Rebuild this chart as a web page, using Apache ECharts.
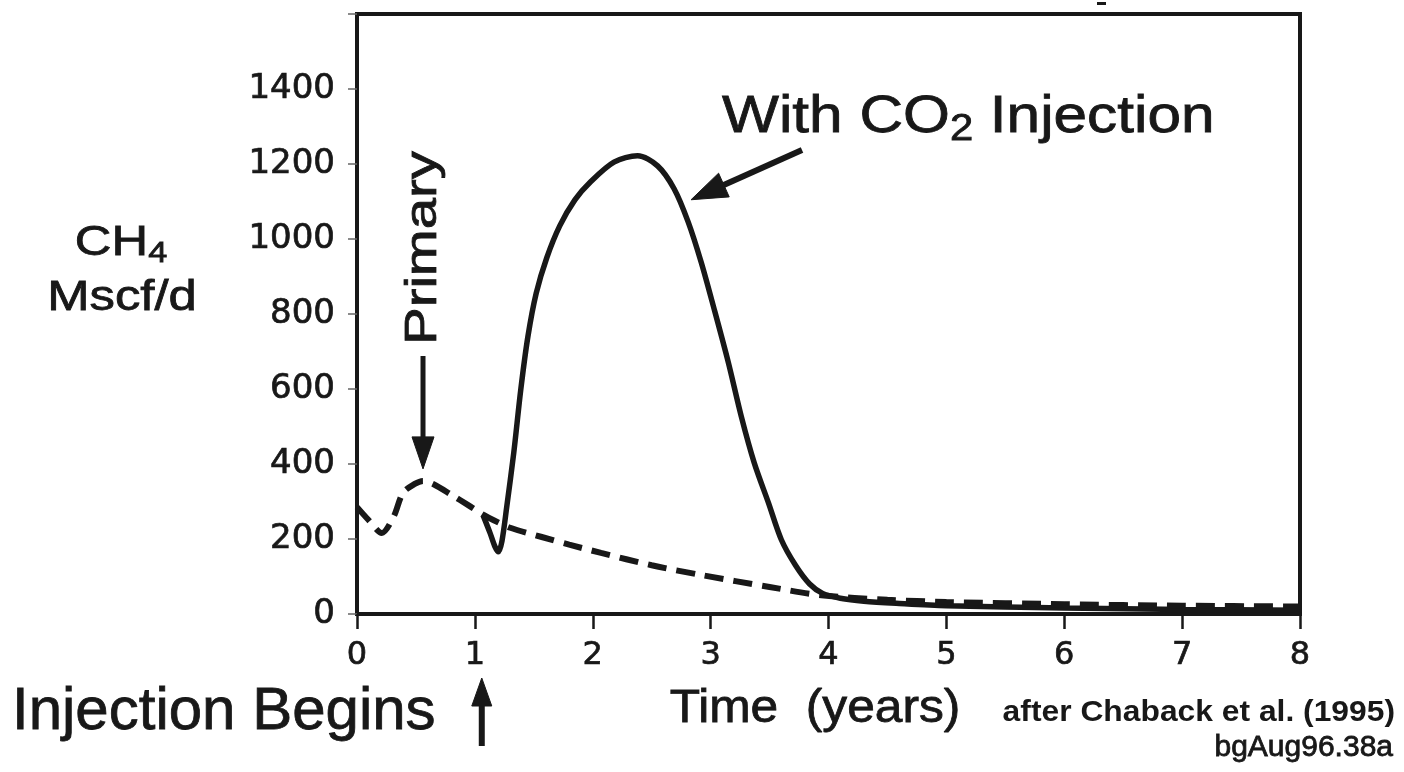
<!DOCTYPE html>
<html>
<head>
<meta charset="utf-8">
<title>CH4 production with CO2 injection</title>
<script src="https://cdn.jsdelivr.net/npm/echarts@6/dist/echarts.min.js"></script>
<style>
  html, body { margin: 0; padding: 0; background: #ffffff; }
  #chart { width: 1404px; height: 772px; }
</style>
</head>
<body>
<div id="chart"></div>
<script>
// Axis ticks
const yearTicks = [0, 1, 2, 3, 4, 5, 6, 7, 8];
const rateTicks = [0, 200, 400, 600, 800, 1000, 1200, 1400];

// Primary production (dashed), CH4 Mscf/d vs time in years
const primaryYears = [0, 0.1, 0.21, 0.31, 0.39, 0.49, 0.56, 0.65, 0.8, 0.94, 1.07, 1.16, 1.3, 1.56, 1.8, 2.07, 2.5, 2.92, 3.5, 3.94, 4.5, 5, 6, 7, 8];
const primaryRate  = [285, 250, 216, 259, 323, 347, 355, 346, 318, 291, 265, 250, 230, 206, 185, 163, 130, 104, 72, 50, 38, 32, 26, 22, 20];

// Production with CO2 injection (solid), starting when injection begins
const co2Years = [1.07, 1.13, 1.17, 1.2, 1.23, 1.27, 1.33, 1.39, 1.45, 1.52, 1.61, 1.72, 1.85, 1.98, 2.18, 2.38, 2.55, 2.69, 2.81, 2.92, 3.03, 3.15, 3.26, 3.37, 3.49, 3.6, 3.72, 3.84, 3.95, 4.1, 4.3, 4.6, 5, 6, 7, 8];
const co2Rate  = [263, 215, 180, 166, 195, 285, 430, 600, 740, 855, 950, 1035, 1105, 1152, 1205, 1222, 1195, 1134, 1045, 938, 813, 671, 527, 403, 297, 198, 130, 80, 55, 42, 34, 28, 22, 16, 12, 10];

// Annotation anchors in data space
const injectionStart = 1.05;
const co2Pointer = [2.8, 1110];

const INK = '#181818';
const SANS = '"Liberation Sans", Arial, sans-serif';
const TICKFONT = '"DejaVu Sans", sans-serif';

const zip = (xs, ys) => xs.map((x, i) => [x, ys[i]]);

const chart = echarts.init(document.getElementById('chart'), null, { renderer: 'canvas' });

chart.setOption({
  backgroundColor: '#ffffff',
  animation: false,
  grid: {
    left: 357, right: 104, top: 14, bottom: 158,
    show: true, borderColor: INK, borderWidth: 4, backgroundColor: 'transparent'
  },
  xAxis: {
    type: 'value', min: 0, max: 8, interval: 1,
    axisLine: { show: true, lineStyle: { color: INK, width: 4 } },
    axisTick: { show: true, inside: false, length: 15, lineStyle: { color: INK, width: 2.5 } },
    axisLabel: {
      margin: 26, fontSize: 32, color: INK, fontFamily: TICKFONT,
      textBorderColor: INK, textBorderWidth: 0.7,
      formatter: v => (yearTicks.includes(v) ? String(v) : '')
    },
    splitLine: { show: false }
  },
  yAxis: {
    type: 'value', min: 0, max: 1600, interval: 200,
    axisLine: { show: true, lineStyle: { color: INK, width: 4 } },
    axisTick: { show: true, inside: false, length: 9, lineStyle: { color: '#666', width: 1.5 } },
    axisLabel: {
      margin: 22, fontSize: 34, color: INK, fontFamily: TICKFONT,
      textBorderColor: INK, textBorderWidth: 0.7,
      formatter: v => (rateTicks.includes(v) ? String(v) : '')
    },
    splitLine: { show: false }
  },
  series: [
    {
      name: 'With CO2 Injection',
      type: 'line',
      data: zip(co2Years, co2Rate),
      showSymbol: false, symbol: 'none',
      smooth: 0.3,
      lineStyle: { color: INK, width: 5.5 },
      z: 3
    },
    {
      name: 'Primary',
      type: 'line',
      data: zip(primaryYears, primaryRate),
      showSymbol: false, symbol: 'none',
      smooth: 0.3,
      lineStyle: { color: INK, width: 6, type: [19, 10] },
      z: 4
    }
  ]
});

// Arrow made of a shaft and a filled triangular head, pointing at (x2, y2)
function arrow(x1, y1, x2, y2, headLen, headW, lineW) {
  const dx = x2 - x1, dy = y2 - y1;
  const len = Math.hypot(dx, dy);
  const ux = dx / len, uy = dy / len;
  const bx = x2 - ux * headLen, by = y2 - uy * headLen;
  const nx = -uy, ny = ux;
  return [
    { type: 'polyline', silent: true, shape: { points: [[x1, y1], [bx + ux * 2, by + uy * 2]] },
      style: { stroke: INK, lineWidth: lineW, fill: null } },
    { type: 'polygon', silent: true,
      shape: { points: [[x2, y2], [bx + nx * headW / 2, by + ny * headW / 2], [bx - nx * headW / 2, by - ny * headW / 2]] },
      style: { fill: INK, stroke: INK, lineWidth: 1 } }
  ];
}

// Pixel positions of annotated data points
const peakIdx = primaryRate.indexOf(Math.max(...primaryRate));
const peakPx = chart.convertToPixel({ gridIndex: 0 }, [primaryYears[peakIdx], primaryRate[peakIdx]]);
const co2Px = chart.convertToPixel({ gridIndex: 0 }, co2Pointer);
const injPx = chart.convertToPixel({ gridIndex: 0 }, [injectionStart, 0]);

// Slight outline so the lettering carries the same weight as the lines
const heavy = { stroke: INK, lineWidth: 0.8 };

const graphics = [];

// "Primary" label with downward arrow to the primary peak
graphics.push({
  type: 'text', silent: true, x: peakPx[0] + 1, y: 248, rotation: Math.PI / 2, scaleX: 1.25,
  style: Object.assign({ text: 'Primary', font: '45px ' + SANS, fill: INK, align: 'center', verticalAlign: 'middle' }, heavy)
});
graphics.push(...arrow(peakPx[0], 356, peakPx[0], peakPx[1] - 12, 32, 22, 5));

// "With CO2 Injection" label with arrow to the injection curve
graphics.push({
  type: 'text', silent: true, x: 722, y: 118, scaleX: 1.16,
  style: Object.assign({
    text: '{n|With CO}{s|2}{n| Injection}',
    fill: INK, align: 'left', verticalAlign: 'middle',
    rich: {
      n: { fontSize: 52, fontFamily: SANS, fill: INK, lineHeight: 60, verticalAlign: 'middle' },
      s: { fontSize: 36, fontFamily: SANS, fill: INK, lineHeight: 36, verticalAlign: 'bottom', padding: [14, 0, 0, 0] }
    }
  }, heavy)
});
graphics.push(...arrow(802, 150, co2Px[0] + 4, co2Px[1] + 2, 36, 26, 6));

// Y axis title
graphics.push({
  type: 'text', silent: true, x: 121, y: 243, scaleX: 1.18,
  style: Object.assign({
    text: '{n|CH}{s|4}', fill: INK, align: 'center', verticalAlign: 'middle',
    rich: {
      n: { fontSize: 43, fontFamily: SANS, fill: INK, lineHeight: 50, verticalAlign: 'middle' },
      s: { fontSize: 29, fontFamily: SANS, fill: INK, lineHeight: 29, verticalAlign: 'bottom', padding: [12, 0, 0, 0] }
    }
  }, heavy)
});
graphics.push({
  type: 'text', silent: true, x: 122, y: 298, scaleX: 1.18,
  style: Object.assign({ text: 'Mscf/d', font: '43px ' + SANS, fill: INK, align: 'center', verticalAlign: 'middle' }, heavy)
});

// X axis title and footer notes
graphics.push({
  type: 'text', silent: true, x: 815, y: 709, scaleX: 1.08,
  style: Object.assign({ text: 'Time  (years)', font: '46px ' + SANS, fill: INK, align: 'center', verticalAlign: 'middle' }, heavy)
});
graphics.push({
  type: 'text', silent: true, x: 12, y: 712,
  style: Object.assign({ text: 'Injection Begins', font: '60px ' + SANS, fill: INK, align: 'left', verticalAlign: 'middle' }, heavy)
});
graphics.push(...arrow(injPx[0] + 1, 746, injPx[0] + 1, 678, 28, 20, 6));
graphics.push({
  type: 'text', silent: true, x: 1395, y: 713, scaleX: 1.06,
  style: { text: 'after Chaback et al. (1995)', font: 'bold 30px ' + SANS, fill: INK, align: 'right', verticalAlign: 'middle' }
});
graphics.push({
  type: 'text', silent: true, x: 1393, y: 748,
  style: Object.assign({ text: 'bgAug96.38a', font: '30px ' + SANS, fill: INK, align: 'right', verticalAlign: 'middle' }, heavy)
});

// Small stray mark above the frame
graphics.push({
  type: 'rect', silent: true, shape: { x: 1097, y: 2, width: 9, height: 3 }, style: { fill: INK }
});

chart.setOption({ graphic: { elements: graphics } });
</script>
</body>
</html>
